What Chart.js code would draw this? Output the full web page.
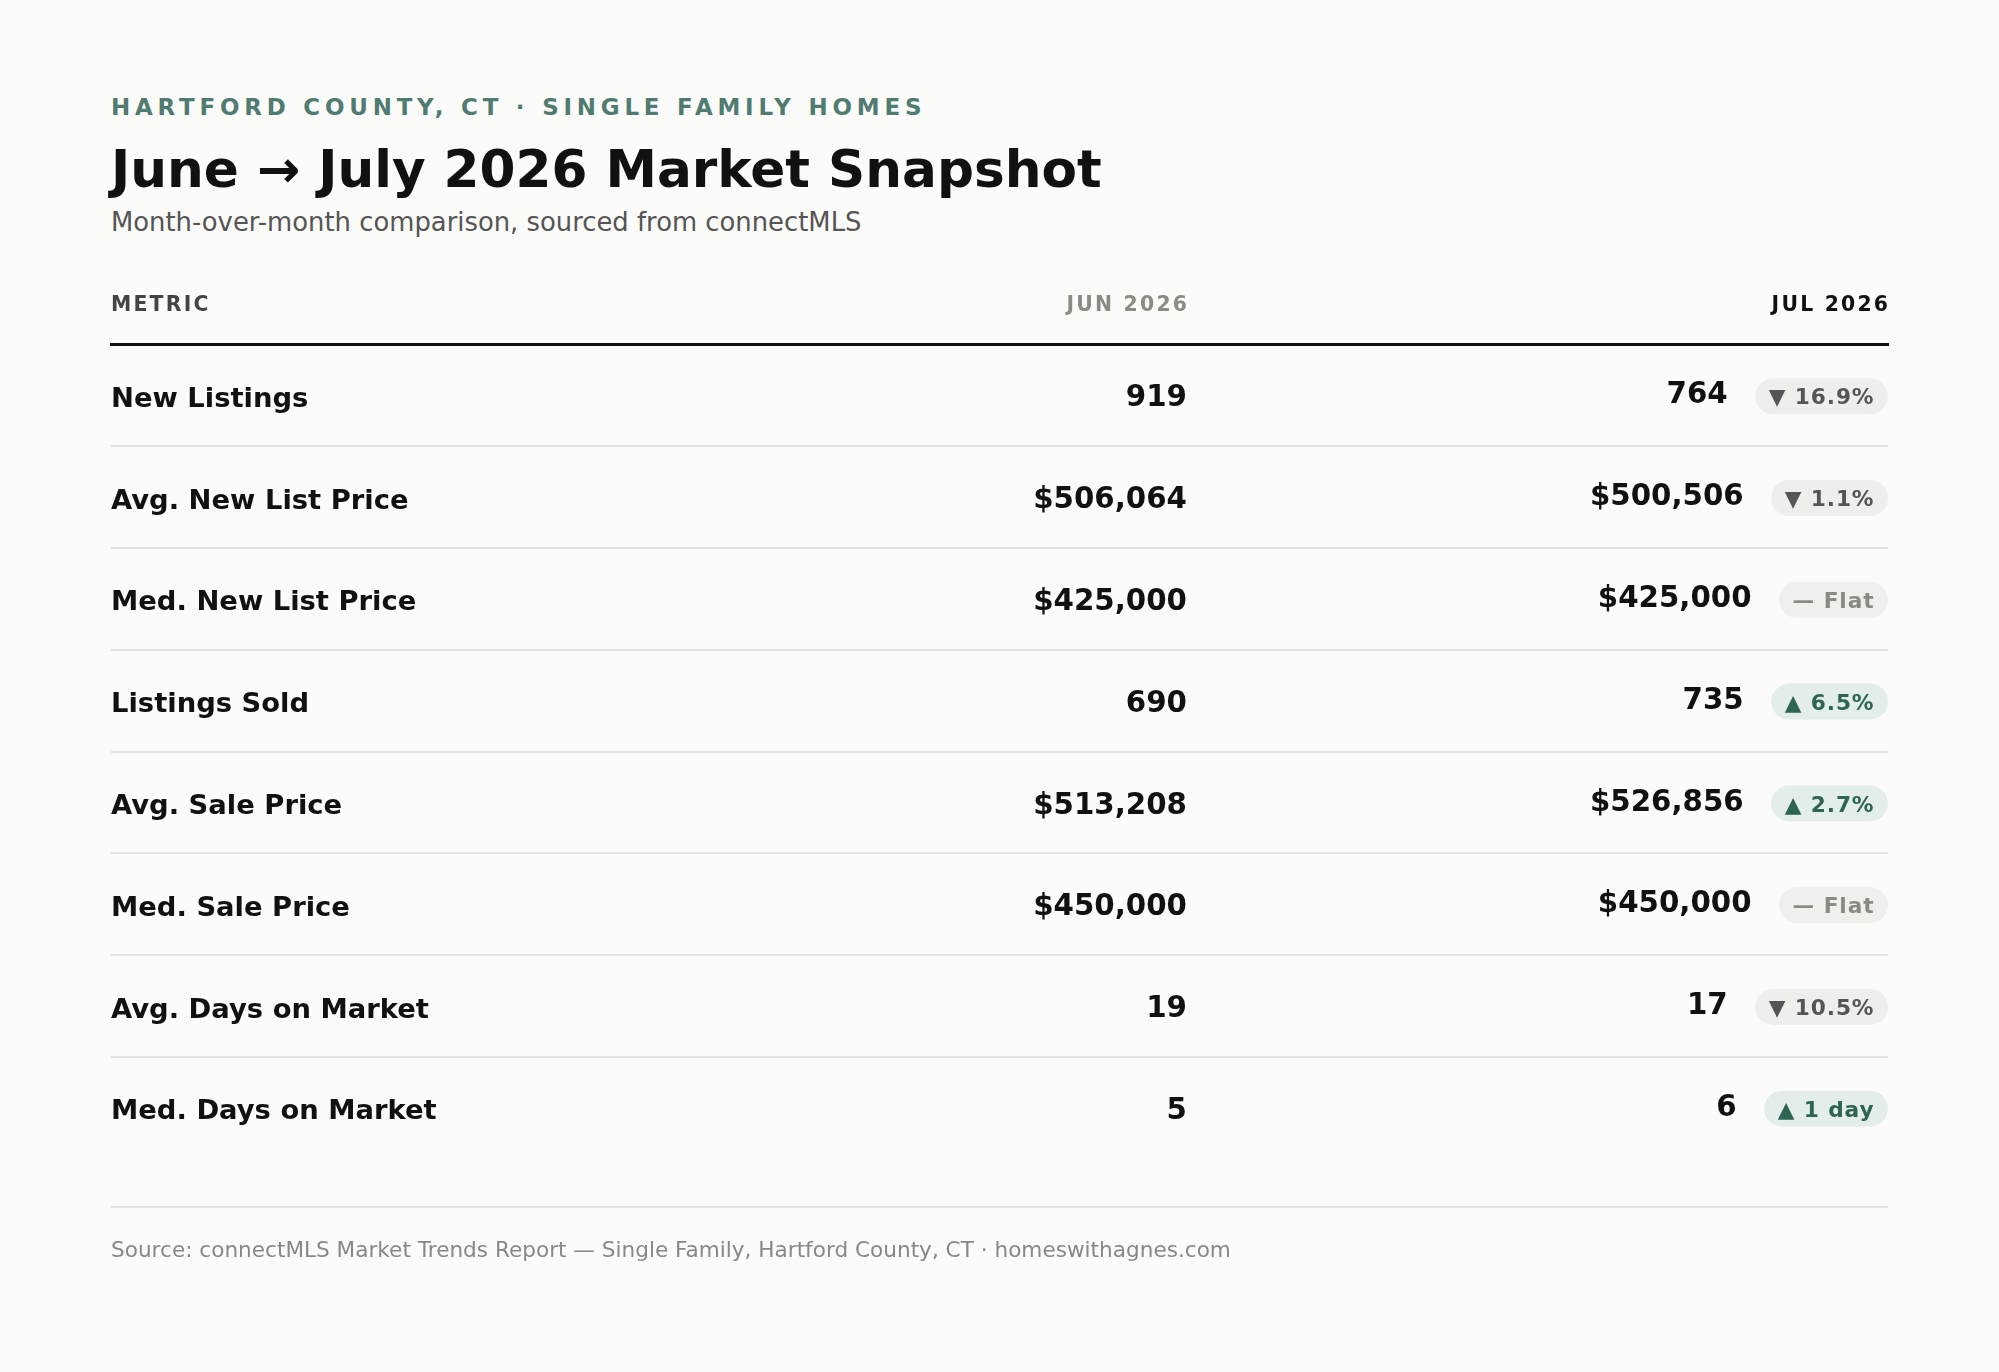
<!DOCTYPE html>
<html>
<head>
<meta charset="utf-8">
<title>June → July 2026 Market Snapshot</title>
<script src="https://cdn.jsdelivr.net/npm/chart.js@4.4.1/dist/chart.umd.min.js"></script>
<style>
  html, body { margin: 0; padding: 0; background: #fbfbf9; overflow: hidden; }
  body { width: 1999px; height: 1372px; position: relative; font-family: "DejaVu Sans", sans-serif; }
  .t { position: absolute; left: 111px; white-space: nowrap; line-height: 1; }
  #kicker { top: 96px; font-size: 22.95px; font-weight: bold; letter-spacing: 4.8px; color: #4f7b70; }
  #title { top: 144px; font-size: 51.7px; font-weight: bold; color: #111; }
  #sub { top: 210px; font-size: 25.85px; color: #555; }
  #rule { position: absolute; left: 111px; width: 1777px; top: 1206px; height: 2px; background: #e6e4de; }
  #foot { top: 1239px; font-size: 21.6px; color: #888; }
  #wrap { position: absolute; left: 0; top: 0; width: 1999px; height: 1372px; }
</style>
</head>
<body>
<div class="t" id="kicker">HARTFORD COUNTY, CT · SINGLE FAMILY HOMES</div>
<div class="t" id="title">June → July 2026 Market Snapshot</div>
<div class="t" id="sub">Month-over-month comparison, sourced from connectMLS</div>
<div id="wrap"><canvas id="table"></canvas></div>
<div id="rule"></div>
<div class="t" id="foot">Source: connectMLS Market Trends Report — Single Family, Hartford County, CT · homeswithagnes.com</div>

<script>
const columnLabels = ["METRIC", "JUN 2026", "JUL 2026"];
const metrics = [
  "New Listings",
  "Avg. New List Price",
  "Med. New List Price",
  "Listings Sold",
  "Avg. Sale Price",
  "Med. Sale Price",
  "Avg. Days on Market",
  "Med. Days on Market"
];
const junValues = [919, 506064, 425000, 690, 513208, 450000, 19, 5];
const julValues = [764, 500506, 425000, 735, 526856, 450000, 17, 6];
const isCurrency = [false, true, true, false, true, true, false, false];
const changeLabels = ["16.9%", "1.1%", "Flat", "6.5%", "2.7%", "Flat", "10.5%", "1 day"];
const changeDirs = ["down", "down", "flat", "up", "up", "flat", "down", "up"];

const FONT = '"DejaVu Sans", sans-serif';
Chart.defaults.font.family = FONT;

// column anchors on the x scale (0 = left edge of table, 1 = right edge)
const JUN_COL = 0.6055;
const JUL_COL = 1;

const badgeStyle = {
  up:   { bg: "#e3eeea", fg: "#2e6454", mark: "▲" },
  down: { bg: "#eeeeeb", fg: "#555555", mark: "▼" },
  flat: { bg: "#f1efeb", fg: "#8b8983", mark: "—" }
};

function fmt(v, cur) {
  const s = v.toLocaleString("en-US");
  return cur ? "$" + s : s;
}

function pill(ctx, x, y, w, h) {
  const r = h / 2;
  ctx.beginPath();
  ctx.moveTo(x + r, y);
  ctx.lineTo(x + w - r, y);
  ctx.arc(x + w - r, y + r, r, -Math.PI / 2, Math.PI / 2);
  ctx.lineTo(x + r, y + h);
  ctx.arc(x + r, y + r, r, Math.PI / 2, Math.PI * 1.5);
  ctx.closePath();
  ctx.fill();
}

const tableCells = {
  id: "tableCells",
  afterDatasetsDraw(chart) {
    const { ctx, chartArea, scales } = chart;
    ctx.save();
    ctx.textBaseline = "middle";

    // column header
    const hy = chartArea.top - 39;
    ctx.font = "bold 20.4px " + FONT;
    ctx.letterSpacing = "2.2px";
    ctx.textAlign = "left";
    ctx.fillStyle = "#444";
    ctx.fillText(columnLabels[0], chartArea.left, hy);
    ctx.textAlign = "right";
    ctx.fillStyle = "#8c8a82";
    ctx.fillText(columnLabels[1], scales.x.getPixelForValue(JUN_COL) + 2.2, hy);
    ctx.fillStyle = "#111";
    ctx.fillText(columnLabels[2], scales.x.getPixelForValue(JUL_COL) + 2.2, hy);

    // June column
    ctx.letterSpacing = "0px";
    ctx.font = "bold 29.3px " + FONT;
    ctx.fillStyle = "#111";
    chart.getDatasetMeta(0).data.forEach((el, i) => {
      ctx.fillText(fmt(junValues[i], isCurrency[i]), el.x, el.y + 3.5);
    });

    // July column with change badge
    chart.getDatasetMeta(1).data.forEach((el, i) => {
      const st = badgeStyle[changeDirs[i]];
      const txt = st.mark + " " + changeLabels[i];
      ctx.font = "bold 21.7px " + FONT;
      ctx.letterSpacing = "0.9px";
      const tw = ctx.measureText(txt).width;
      const bw = tw + 27;
      const bh = 36;
      ctx.fillStyle = st.bg;
      pill(ctx, el.x - bw, el.y - bh / 2 + 1, bw, bh);
      ctx.fillStyle = st.fg;
      ctx.textAlign = "left";
      ctx.fillText(txt, el.x - bw + 13.5, el.y + 3.5);

      ctx.letterSpacing = "0px";
      ctx.font = "bold 29.3px " + FONT;
      ctx.fillStyle = "#111";
      ctx.textAlign = "right";
      ctx.fillText(fmt(julValues[i], isCurrency[i]), el.x - bw - 27.5, el.y + 0.5);
    });
    ctx.restore();
  }
};

new Chart(document.getElementById("table"), {
  type: "scatter",
  data: {
    datasets: [
      { label: columnLabels[1], data: metrics.map(m => ({ x: JUN_COL, y: m })), pointRadius: 0, pointHoverRadius: 0 },
      { label: columnLabels[2], data: metrics.map(m => ({ x: JUL_COL, y: m })), pointRadius: 0, pointHoverRadius: 0 }
    ]
  },
  options: {
    responsive: true,
    maintainAspectRatio: false,
    animation: false,
    events: [],
    layout: { padding: { left: 111, right: 111, top: 344.4, bottom: 213.4 } },
    plugins: { legend: { display: false }, tooltip: { enabled: false }, title: { display: false } },
    scales: {
      x: {
        type: "linear",
        position: "top",
        min: 0,
        max: 1,
        ticks: { display: false },
        grid: { display: false, drawTicks: false },
        border: { display: true, color: "#111", width: 3 },
        afterFit: s => { s.height = 0; }
      },
      y: {
        type: "category",
        labels: metrics,
        offset: true,
        grid: {
          offset: true,
          drawTicks: false,
          lineWidth: 2,
          color: c => (c.type === "tick" && c.index > 0) ? "#e6e4de" : "rgba(0,0,0,0)"
        },
        border: { display: false },
        ticks: {
          mirror: true,
          padding: 0,
          labelOffset: 4.5,
          autoSkip: false,
          color: "#111",
          font: { family: FONT, size: 27.4, weight: "bold" }
        },
        afterFit: s => { s.width = 0; }
      }
    }
  },
  plugins: [tableCells]
});
</script>
</body>
</html>
